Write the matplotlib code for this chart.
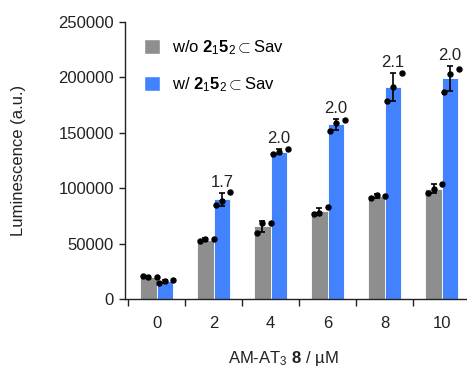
import numpy as np
import matplotlib
matplotlib.use("Agg")
import matplotlib.pyplot as plt
from matplotlib.patches import Patch

plt.rcParams["font.family"] = ["Liberation Sans", "DejaVu Sans"]
plt.rcParams["mathtext.fontset"] = "custom"
plt.rcParams["mathtext.rm"] = "Liberation Sans"
plt.rcParams["mathtext.bf"] = "Liberation Sans:bold"
plt.rcParams["mathtext.it"] = "Liberation Sans:italic"

# concentrations (uM)
conc = ["0", "2", "4", "6", "8", "10"]

# replicate readings, left to right within each bar
sin_sav = [
    [20800, 20200, 19800],
    [52100, 53900, 54400],
    [59800, 68300, 68900],
    [76700, 77900, 82800],
    [91400, 94300, 93000],
    [95400, 99000, 103500],
]
con_sav = [
    [14700, 16200, 17100],
    [84600, 88400, 96600],
    [130900, 132400, 135400],
    [151900, 159100, 161800],
    [179000, 191600, 204200],
    [186500, 203400, 207800],
]
# fold change labels over the blue bars (from 2 uM on)
fold = ["1.7", "2.0", "2.0", "2.1", "2.0"]

gris = "#8e8e8e"
azul = "#4282ff"
ancho = 0.29
fs = 12

fig = plt.figure(figsize=(4.67, 3.70), dpi=100)
ax = fig.add_axes([125 / 467, 71 / 370, 342 / 467, 277 / 370])

x = np.arange(len(conc))
series = [(sin_sav, gris, -ancho / 2), (con_sav, azul, ancho / 2)]
desplaz = np.array([-0.1, 0.0, 0.15])

for datos, color, off in series:
    arr = np.array(datos, dtype=float)
    media = arr.mean(axis=1)
    sd = arr.std(axis=1, ddof=1)
    ax.bar(x + off, media, width=ancho, color=color, edgecolor="white",
           linewidth=0.6, zorder=2)
    ax.errorbar(x + off, media, yerr=sd, fmt="none", ecolor="black",
                elinewidth=1.2, capsize=2, capthick=1.2, zorder=3)
    for i in range(len(x)):
        ax.plot(x[i] + off + desplaz, arr[i], "o", color="black",
                markersize=3.6, zorder=4, linestyle="none")

# fold labels
arr = np.array(con_sav, dtype=float)
tope = arr.mean(axis=1) + arr.std(axis=1, ddof=1)
for i, txt in enumerate(fold):
    j = i + 1
    ax.text(x[j] + ancho / 2, tope[j] + 2500, txt, ha="center", va="bottom",
            fontsize=fs, color="#222222")

ax.set_xlim(-0.553, 5.44)
ax.set_ylim(0, 250000)
ax.set_yticks(np.arange(0, 250001, 50000))
ax.set_yticklabels([str(v) for v in range(0, 250001, 50000)])
ax.tick_params(axis="y", direction="out", length=4, width=1, labelsize=fs,
               colors="#222222", pad=4)

# ticks between groups, labels at the group centres
ax.set_xticks(np.arange(-0.5, 5.0, 1.0))
ax.set_xticklabels([])
ax.set_xticks(x, minor=True)
ax.set_xticklabels(conc, minor=True)
ax.tick_params(axis="x", which="major", direction="out", length=5, width=1,
               colors="#222222")
ax.tick_params(axis="x", which="minor", length=0, labelsize=fs, pad=12,
               colors="#222222")

for lado in ["top", "right"]:
    ax.spines[lado].set_visible(False)
for lado in ["left", "bottom"]:
    ax.spines[lado].set_color("#222222")
    ax.spines[lado].set_linewidth(1)

ax.set_ylabel("Luminescence (a.u.)", fontsize=fs, color="#222222")
ax.yaxis.set_label_coords(-0.29, 0.5)
ax.set_xlabel(r"AM-AT$_3$ $\mathbf{8}$ / µM", fontsize=fs, color="#222222")
ax.xaxis.set_label_coords(0.462, -0.182)

handles = [Patch(facecolor=gris, edgecolor="white"),
           Patch(facecolor=azul, edgecolor="white")]
labels = [r"w/o $\mathbf{2}_{1}\mathbf{5}_{2}$$\subset$Sav",
          r"w/ $\mathbf{2}_{1}\mathbf{5}_{2}$$\subset$Sav"]
ax.legend(handles, labels, loc="upper left", bbox_to_anchor=(0.035, 0.966),
          frameon=False, fontsize=fs, handlelength=1.0, handleheight=1.0,
          handletextpad=0.72, labelspacing=1.1, borderaxespad=0)

fig.savefig("out.png", dpi=100)
